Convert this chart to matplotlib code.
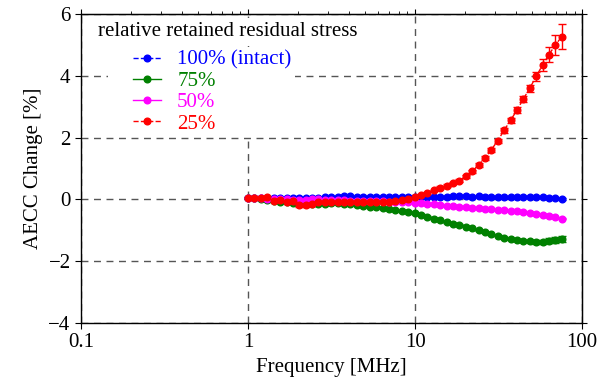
import numpy as np
import matplotlib
matplotlib.use("Agg")
import matplotlib.pyplot as plt
from matplotlib.offsetbox import HPacker, DrawingArea

plt.rcParams["font.family"] = ["Liberation Serif", "DejaVu Serif"]

# frequencies in MHz (log spaced measurement grid)
freq = [1.00, 1.09, 1.19, 1.30, 1.42, 1.55, 1.70, 1.86, 2.03, 2.21,
        2.42, 2.64, 2.88, 3.15, 3.44, 3.76, 4.10, 4.48, 4.90, 5.35,
        5.84, 6.38, 6.97, 7.61, 8.32, 9.08, 9.92, 10.84, 11.84, 12.93,
        14.12, 15.42, 16.85, 18.40, 20.10, 21.95, 23.98, 26.19, 28.60, 31.24,
        34.12, 37.27, 40.71, 44.46, 48.56, 53.04, 57.94, 63.28, 69.12, 75.50]

# AECC change [%] per retained residual stress level
aecc_100 = [0.05, 0.04, 0.03, 0.02, 0.03, 0.03, 0.04, 0.05, 0.04, 0.05,
            0.06, 0.06, 0.07, 0.08, 0.09, 0.10, 0.10, 0.09, 0.08, 0.08,
            0.09, 0.08, 0.08, 0.08, 0.08, 0.09, 0.09, 0.08, 0.08, 0.09,
            0.09, 0.09, 0.10, 0.11, 0.10, 0.09, 0.10, 0.09, 0.08, 0.08,
            0.07, 0.07, 0.07, 0.08, 0.09, 0.08, 0.07, 0.06, 0.03, 0.01]
aecc_75 = [0.06, 0.03, 0.00, -0.03, -0.05, -0.07, -0.09, -0.11, -0.12, -0.13,
           -0.14, -0.14, -0.14, -0.13, -0.13, -0.14, -0.16, -0.18, -0.21, -0.24,
           -0.26, -0.29, -0.32, -0.35, -0.38, -0.41, -0.45, -0.50, -0.56, -0.62,
           -0.68, -0.74, -0.78, -0.82, -0.88, -0.94, -1.00, -1.06, -1.13, -1.18,
           -1.24, -1.28, -1.32, -1.35, -1.36, -1.37, -1.37, -1.34, -1.31, -1.29]
aecc_50 = [0.05, 0.04, 0.03, 0.02, 0.01, 0.00, 0.00, -0.01, -0.01, -0.01,
           0.00, 0.00, -0.01, -0.02, -0.03, -0.03, -0.04, -0.04, -0.05, -0.05,
           -0.06, -0.06, -0.07, -0.08, -0.09, -0.10, -0.11, -0.12, -0.14, -0.16,
           -0.18, -0.20, -0.22, -0.24, -0.26, -0.27, -0.29, -0.31, -0.32, -0.33,
           -0.35, -0.37, -0.39, -0.41, -0.44, -0.47, -0.50, -0.53, -0.58, -0.62]
aecc_25 = [0.03, 0.05, 0.05, 0.08, -0.06, -0.02, -0.10, -0.04, -0.17, -0.17,
           -0.16, -0.10, -0.10, -0.09, -0.09, -0.09, -0.09, -0.09, -0.09, -0.09,
           -0.08, -0.07, -0.07, -0.05, -0.02, 0.02, 0.07, 0.15, 0.20, 0.29,
           0.38, 0.45, 0.53, 0.61, 0.75, 0.91, 1.11, 1.34, 1.61, 1.90,
           2.24, 2.56, 2.89, 3.25, 3.60, 3.98, 4.35, 4.69, 5.00, 5.27]

# error bars (one standard deviation)
err_100 = [0.02] * 50
err_50 = [0.02] * 50
err_75 = [0.02] * 40 + [0.03, 0.03, 0.04, 0.04, 0.05, 0.06, 0.07, 0.08, 0.09, 0.10]
err_25 = [0.03] * 8 + [0.06, 0.06, 0.05] + [0.03] * 19 + \
         [0.04, 0.04, 0.04, 0.05, 0.05, 0.05, 0.06, 0.06, 0.07, 0.07,
          0.08, 0.08, 0.09, 0.10, 0.12, 0.15, 0.20, 0.25, 0.32, 0.40]

series = [
    (aecc_100, err_100, "blue", "--", "100% (intact)"),
    (aecc_75, err_75, "green", "-", "75%"),
    (aecc_50, err_50, "magenta", "-", "50%"),
    (aecc_25, err_25, "red", "--", "25%"),
]

fig = plt.figure(figsize=(5.98, 3.91), dpi=100)
ax = fig.add_axes([0.1355, 0.174, 0.838, 0.79])

handles = []
for vals, err, color, ls, label in series:
    c = ax.errorbar(freq, vals, yerr=err, color=color, ls=ls, lw=1.0,
                    marker="o", ms=4.8, capsize=3, elinewidth=1.0, label=label)
    handles.append(c[0])

ax.set_xscale("log")
ax.set_xlim(0.1, 100)
ax.set_ylim(-4, 6)
ax.set_xticks([0.1, 1, 10, 100])
ax.set_xticklabels(["0.1", "1", "10", "100"])
ax.set_yticks([-4, -2, 0, 2, 4, 6])
ax.minorticks_off()
# outward ticks on left/bottom, inward mirrored ticks on top/right
ax.tick_params(direction="out", length=4, labelsize=15)
ax.secondary_xaxis("top").set_xticks([0.1, 1, 10, 100], labels=[])
ax.secondary_yaxis("right").set_yticks([-4, -2, 0, 2, 4, 6], labels=[])
for sec in fig.axes[1:]:
    sec.tick_params(direction="in", length=4)
    sec.minorticks_off()
for s in ax.spines.values():
    s.set_linewidth(1.0)

ax.grid(True, ls=(0, (5, 4)), color="#555555", lw=1.0)
ax.set_axisbelow(True)

ax.set_xlabel("Frequency [MHz]", fontsize=15)
ax.set_ylabel("AECC Change [%]", fontsize=15)

# legend title as its own text, entries indented below it
ax.text(0.034, 0.942, "relative retained residual stress", fontsize=15,
        ha="left", va="center", transform=ax.transAxes, zorder=1.5,
        bbox=dict(boxstyle="square", fc="white", ec="none", pad=0.2))

leg = ax.legend(handles, [s[4] for s in series], loc="upper left",
                bbox_to_anchor=(0.054, 0.893), borderaxespad=0, fontsize=15,
                frameon=True, framealpha=1.0, edgecolor="none",
                handlelength=1.3, handletextpad=0.8, labelspacing=0.08,
                borderpad=0.15)
leg.get_frame().set_boxstyle("square", pad=0)
indented = HPacker(pad=0, sep=0, align="top",
                   children=[DrawingArea(16, 1), leg._legend_handle_box])
indented.set_figure(fig)
leg._legend_box._children = [leg._legend_title_box, indented]
for txt, s in zip(leg.get_texts(), series):
    txt.set_color(s[2])

fig.savefig("out.png", dpi=100)
